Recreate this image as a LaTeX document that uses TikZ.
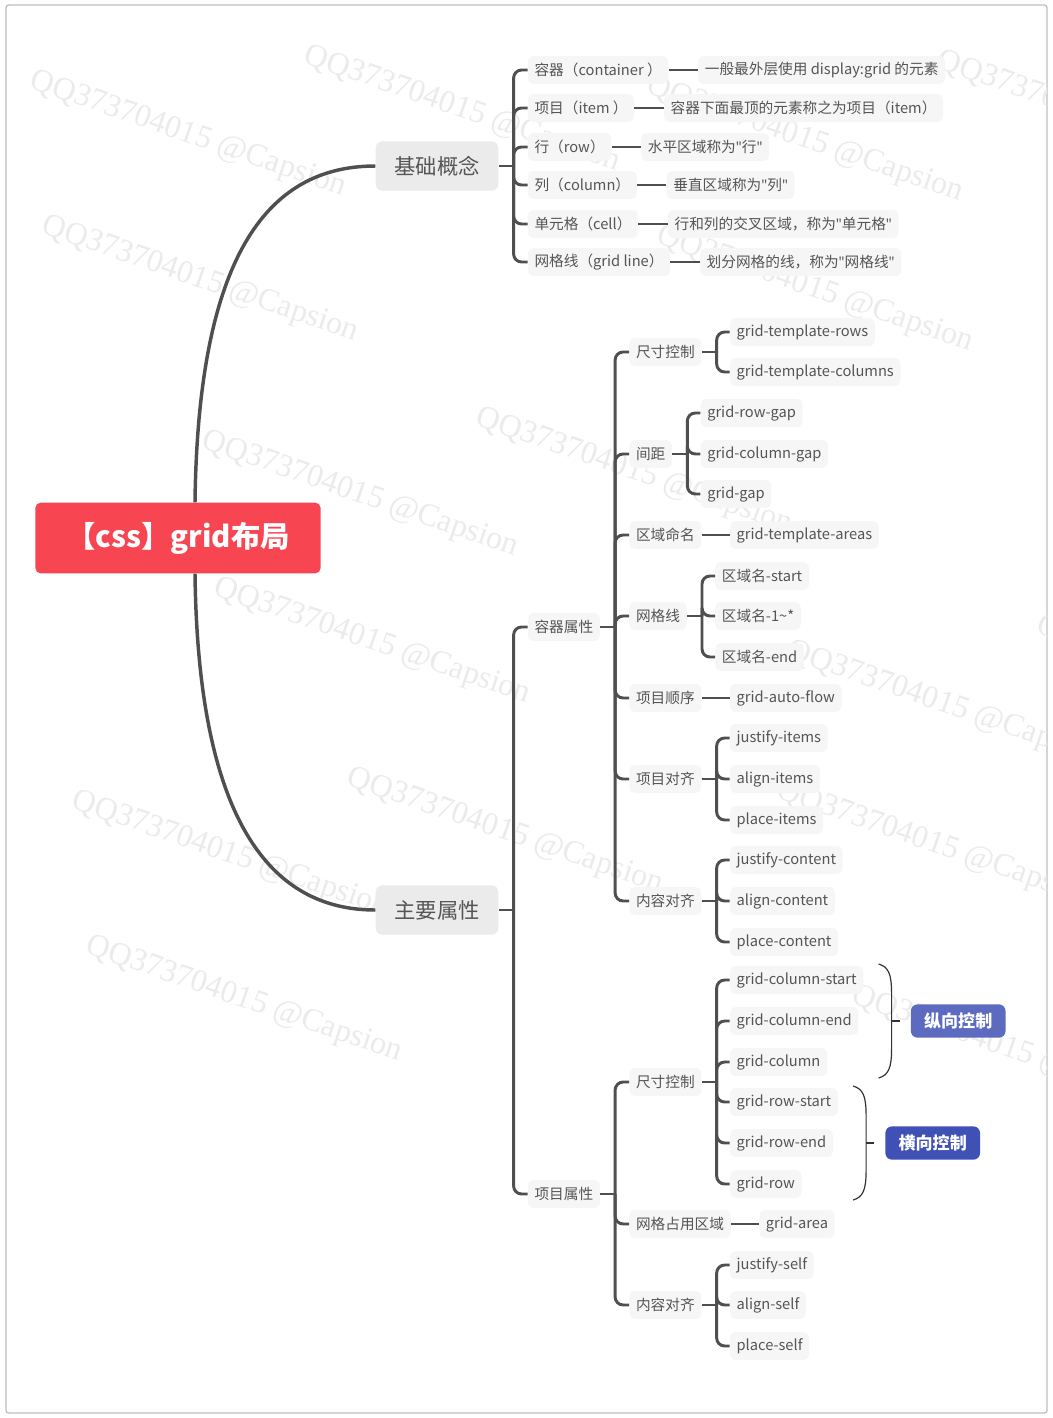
\documentclass[tikz,border=0pt]{standalone}
\usepackage{fontspec}
\setmainfont{Noto Sans CJK SC}
\newfontfamily\wmfont{Liberation Serif}
\newfontfamily\latinfont{Noto Sans}
\newcommand\qt{{\latinfont"}}
\usetikzlibrary{positioning, calc}
\definecolor{rootred}{HTML}{F74552}
\definecolor{majorbg}{HTML}{EBEBEB}
\definecolor{leafbg}{HTML}{F6F6F6}
\definecolor{txt}{HTML}{555555}
\definecolor{linec}{HTML}{4F4F4F}
\definecolor{vtag}{HTML}{5C6BC0}
\definecolor{htag}{HTML}{3F51B5}

\begin{document}
\begin{tikzpicture}[x=0.75pt, y=-0.75pt]
\tikzset{
  root/.style={fill=rootred, text=white, rounded corners=4pt, minimum width=214pt, minimum height=53pt, font=\fontsize{22}{25}\selectfont\bfseries},
  major/.style={fill=majorbg, text=txt, rounded corners=5pt, minimum width=92pt, minimum height=37pt, font=\fontsize{16}{19}\selectfont},
  leaf/.style={fill=leafbg, text=txt, rounded corners=4pt, anchor=west, inner xsep=5pt, minimum height=21pt, font=\fontsize{11}{13}\selectfont},
  tag/.style={text=white, rounded corners=5pt, anchor=west, minimum width=71pt, minimum height=25pt, font=\fontsize{12.8}{15}\selectfont\bfseries},
  branch/.style={draw=linec, line width=2.2pt, rounded corners=6pt},
  trunk/.style={draw=linec, line width=2.6pt},
  brace/.style={draw=black!80, line width=0.9pt},
  wmark/.style={text=black!8, rotate=-19, font=\wmfont\fontsize{24}{26}\selectfont},
}
\useasboundingbox (0,0) rectangle (1053,1418);
\draw[black!25, line width=1pt, rounded corners=2pt] (6,5) rectangle (1047,1413);

% watermark
\begin{scope}
\clip (7,6) rectangle (1046,1412);
\foreach \x/\y [count=\i] in {188/135, 462/110, 805/140, 1095/115, 200/280, 815/290,
  360/495, 634/472, 372/642, 945/705, 1195/680, 505/832, 935/845, 230/855,
  1010/1050, 244/1000}
  \node[wmark] (wm\i) at (\x,\y) {QQ373704015 @Capsion};
\end{scope}

% root and the two main branches
\node[root] (root) at (178,538) {【css】grid布局};
\node[major] (jc) at (437,166) {基础概念};
\node[major] (zy) at (437,910) {主要属性};

\draw[trunk] ($(root.north)+(17,0)$) .. controls (198,260) and (265,166) .. (jc.west);
\draw[trunk] ($(root.south)+(17,0)$) .. controls (198,820) and (270,910) .. (zy.west);

% basic concepts
\coordinate (jcb) at ($(jc.east)+(15,0)$);
\node[leaf] (c1) at ($(jcb)+(14,-96)$) {容器（container ）};
\node[leaf] (c2) at ($(jcb)+(14,-58)$) {项目（item ）};
\node[leaf] (c3) at ($(jcb)+(14,-19)$) {行（row）};
\node[leaf] (c4) at ($(jcb)+(14,19)$) {列（column）};
\node[leaf] (c5) at ($(jcb)+(14,58)$) {单元格（cell）};
\node[leaf] (c6) at ($(jcb)+(14,96)$) {网格线（grid line）};

\node[leaf, right=22pt of c1] (d1) {一般最外层使用 display:grid 的元素};
\node[leaf, right=22pt of c2] (d2) {容器下面最顶的元素称之为项目（item）};
\node[leaf, right=22pt of c3] (d3) {水平区域称为\qt 行\qt};
\node[leaf, right=22pt of c4] (d4) {垂直区域称为\qt 列\qt};
\node[leaf, right=22pt of c5] (d5) {行和列的交叉区域，称为\qt 单元格\qt};
\node[leaf, right=22pt of c6] (d6) {划分网格的线，称为\qt 网格线\qt};

\draw[branch] (jc.east) -- (jcb);
\foreach \n in {1,...,6} {
  \draw[branch] (jcb) |- (c\n.west);
  \draw[branch] (c\n) -- (d\n);
}

% main properties
\coordinate (zyb) at ($(zy.east)+(15,0)$);
\node[leaf] (rq) at ($(zyb)+(14,-283)$) {容器属性};
\node[leaf] (xm) at ($(zyb)+(14,284)$) {项目属性};
\draw[branch] (zy.east) -- (zyb);
\foreach \n in {rq,xm} \draw[branch] (zyb) |- (\n.west);

% container properties
\coordinate (rqb) at ($(rq.east)+(15,0)$);
\node[leaf] (s1) at ($(rqb)+(14,-275)$) {尺寸控制};
\node[leaf] (s2) at ($(rqb)+(14,-173)$) {间距};
\node[leaf] (s3) at ($(rqb)+(14,-92)$) {区域命名};
\node[leaf] (s4) at ($(rqb)+(14,-11)$) {网格线};
\node[leaf] (s5) at ($(rqb)+(14,71)$) {项目顺序};
\node[leaf] (s6) at ($(rqb)+(14,152)$) {项目对齐};
\node[leaf] (s7) at ($(rqb)+(14,274)$) {内容对齐};
\draw[branch] (rq.east) -- (rqb);
\foreach \n in {1,...,7} \draw[branch] (rqb) |- (s\n.west);

\coordinate (s1b) at ($(s1.east)+(15,0)$);
\node[leaf] (s11) at ($(s1b)+(13,-20)$) {grid-template-rows};
\node[leaf] (s12) at ($(s1b)+(13,20)$) {grid-template-columns};

\coordinate (s2b) at ($(s2.east)+(15,0)$);
\node[leaf] (s21) at ($(s2b)+(13,-41)$) {grid-row-gap};
\node[leaf] (s22) at ($(s2b)+(13,0)$) {grid-column-gap};
\node[leaf] (s23) at ($(s2b)+(13,40)$) {grid-gap};

\node[leaf, right=21pt of s3] (s31) {grid-template-areas};

\coordinate (s4b) at ($(s4.east)+(15,0)$);
\node[leaf] (s41) at ($(s4b)+(13,-40)$) {区域名-start};
\node[leaf] (s42) at ($(s4b)+(13,0)$) {区域名-1\textasciitilde*};
\node[leaf] (s43) at ($(s4b)+(13,41)$) {区域名-end};

\node[leaf, right=21pt of s5] (s51) {grid-auto-flow};

\coordinate (s6b) at ($(s6.east)+(15,0)$);
\node[leaf] (s61) at ($(s6b)+(13,-41)$) {justify-items};
\node[leaf] (s62) at ($(s6b)+(13,0)$) {align-items};
\node[leaf] (s63) at ($(s6b)+(13,41)$) {place-items};

\coordinate (s7b) at ($(s7.east)+(15,0)$);
\node[leaf] (s71) at ($(s7b)+(13,-41)$) {justify-content};
\node[leaf] (s72) at ($(s7b)+(13,0)$) {align-content};
\node[leaf] (s73) at ($(s7b)+(13,41)$) {place-content};

\draw[branch] (s1.east) -- (s1b);
\foreach \n in {s11,s12} \draw[branch] (s1b) |- (\n.west);
\draw[branch] (s2.east) -- (s2b);
\foreach \n in {s21,s22,s23} \draw[branch] (s2b) |- (\n.west);
\draw[branch] (s3) -- (s31);
\draw[branch] (s4.east) -- (s4b);
\foreach \n in {s41,s42,s43} \draw[branch] (s4b) |- (\n.west);
\draw[branch] (s5) -- (s51);
\draw[branch] (s6.east) -- (s6b);
\foreach \n in {s61,s62,s63} \draw[branch] (s6b) |- (\n.west);
\draw[branch] (s7.east) -- (s7b);
\foreach \n in {s71,s72,s73} \draw[branch] (s7b) |- (\n.west);

% item properties
\coordinate (xmb) at ($(xm.east)+(15,0)$);
\node[leaf] (t1) at ($(xmb)+(14,-112)$) {尺寸控制};
\node[leaf] (t2) at ($(xmb)+(14,30)$) {网格占用区域};
\node[leaf] (t3) at ($(xmb)+(14,111)$) {内容对齐};
\draw[branch] (xm.east) -- (xmb);
\foreach \n in {1,2,3} \draw[branch] (xmb) |- (t\n.west);

\coordinate (t1b) at ($(t1.east)+(15,0)$);
\node[leaf] (t11) at ($(t1b)+(13,-102)$) {grid-column-start};
\node[leaf] (t12) at ($(t1b)+(13,-61)$) {grid-column-end};
\node[leaf] (t13) at ($(t1b)+(13,-20)$) {grid-column};
\node[leaf] (t14) at ($(t1b)+(13,20)$) {grid-row-start};
\node[leaf] (t15) at ($(t1b)+(13,61)$) {grid-row-end};
\node[leaf] (t16) at ($(t1b)+(13,102)$) {grid-row};
\draw[branch] (t1.east) -- (t1b);
\foreach \n in {1,...,6} \draw[branch] (t1b) |- (t1\n.west);

\node[leaf, right=21pt of t2] (t21) {grid-area};
\draw[branch] (t2) -- (t21);

\coordinate (t3b) at ($(t3.east)+(15,0)$);
\node[leaf] (t31) at ($(t3b)+(13,-40)$) {justify-self};
\node[leaf] (t32) at ($(t3b)+(13,0)$) {align-self};
\node[leaf] (t33) at ($(t3b)+(13,41)$) {place-self};
\draw[branch] (t3.east) -- (t3b);
\foreach \n in {1,2,3} \draw[branch] (t3b) |- (t3\n.west);

% summaries
\coordinate (vt) at ($(t11.east)+(15,-16)$);
\draw[brace] (vt) .. controls +(10,3) and +(0,-20) .. ($(vt)+(13,30)$)
  -- ($(vt)+(13,84)$) .. controls +(0,20) and +(10,-3) .. ($(vt)+(0,114)$);
\draw[brace] ($(vt)+(13,57)$) -- ++(8,0) coordinate (vtip);
\node[tag, fill=vtag] (vlab) at ($(vtip)+(11,0)$) {纵向控制};

\coordinate (ht) at ($(t14.east)+(15,-16)$);
\draw[brace] (ht) .. controls +(10,3) and +(0,-20) .. ($(ht)+(13,30)$)
  -- ($(ht)+(13,84)$) .. controls +(0,20) and +(10,-3) .. ($(ht)+(0,114)$);
\draw[brace] ($(ht)+(13,57)$) -- ++(8,0) coordinate (htip);
\node[tag, fill=htag] (hlab) at ($(htip)+(11,0)$) {横向控制};

\end{tikzpicture}
\end{document}
